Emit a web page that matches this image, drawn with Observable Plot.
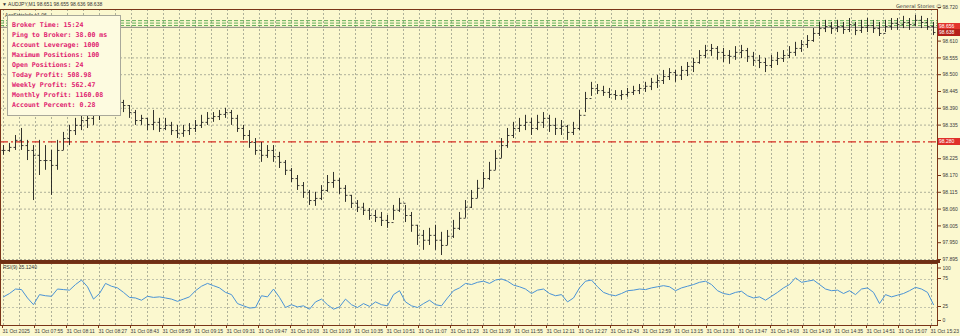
<!DOCTYPE html>
<html><head><meta charset="utf-8">
<script src="https://cdn.jsdelivr.net/npm/d3@7"></script>
<script src="https://cdn.jsdelivr.net/npm/@observablehq/plot@0.6"></script>
<style>
html,body{margin:0;padding:0;background:#fbf8cf;}
#wrap{position:relative;width:960px;height:336px;overflow:hidden;background:#fbf8cf;font-family:"Liberation Sans",Arial,sans-serif;}
#main,#rsi{position:absolute;left:0;}
#main{top:0}
#rsi{top:262px}
.txt{position:absolute;font-size:5px;color:#333;white-space:nowrap;line-height:6px;}
#info{position:absolute;left:7px;top:15px;width:114px;height:101px;box-sizing:border-box;background:#fdfbe0;border:1px solid #a8a89a;padding:4px 0 0 4px;font-family:"DejaVu Sans Mono",monospace;font-weight:bold;font-size:6.6px;line-height:10px;color:#df1a6f;white-space:pre;}
.plabel{position:absolute;left:938px;width:22px;height:7px;line-height:7px;font-size:5px;color:#fff;text-align:left;padding-left:1px;box-sizing:border-box;}
#sep{position:absolute;left:0;top:260px;width:940px;height:3px;background:#6e2f14;}
</style></head>
<body><div id="wrap"></div>
<script>
// ---- data ----
const symbolHeader = "▼ AUDJPY,M1  98.651 98.655 98.636 98.638";
const indicatorName = "AccStatsInfo v1.06";
const brandLabel = "General Stories ☺";
const rsiLabel = "RSI(9) 35.1240";
const infoLines = [
  "Broker Time: 15:24",
  "Ping to Broker: 38.00 ms",
  "Account Leverage: 1000",
  "Maximum Positions: 100",
  "Open Positions: 24",
  "Today Profit: 508.98",
  "Weekly Profit: 562.47",
  "Monthly Profit: 1160.08",
  "Account Percent: 0.28"
];
// bar times in minutes since midnight (3-minute sampling of the M1 chart)
const firstBarMinute = 459, barStepMinutes = 3;
const high = [98.268,98.275,98.301,98.324,98.285,98.268,98.285,98.268,98.252,98.285,
98.311,98.334,98.357,98.367,98.376,98.383,98.416,98.406,98.416,98.422,
98.416,98.399,98.383,98.367,98.357,98.383,98.357,98.357,98.344,98.334,
98.334,98.340,98.350,98.367,98.376,98.376,98.383,98.390,98.383,98.367,
98.334,98.317,98.291,98.278,98.268,98.268,98.246,98.219,98.193,98.170,
98.147,98.121,98.115,98.137,98.170,98.180,98.160,98.137,98.105,98.088,
98.079,98.062,98.056,98.049,98.039,98.072,98.095,98.072,98.049,98.007,
97.990,97.997,98.007,97.984,97.990,98.023,98.049,98.088,98.121,98.154,
98.180,98.213,98.252,98.291,98.324,98.344,98.357,98.367,98.357,98.367,
98.376,98.367,98.357,98.350,98.334,98.344,98.383,98.442,98.475,98.468,
98.462,98.455,98.448,98.448,98.455,98.462,98.468,98.475,98.488,98.498,
98.514,98.520,98.514,98.527,98.540,98.553,98.579,98.596,98.599,98.592,
98.586,98.579,98.592,98.596,98.586,98.573,98.563,98.553,98.563,98.573,
98.579,98.592,98.606,98.612,98.628,98.651,98.671,98.678,98.671,98.678,
98.671,98.684,98.671,98.678,98.684,98.678,98.671,98.678,98.684,98.684,
98.691,98.684,98.694,98.691,98.684,98.671];
const low = [98.236,98.246,98.252,98.252,98.219,98.088,98.170,98.187,98.105,98.187,
98.252,98.268,98.301,98.317,98.324,98.334,98.350,98.367,98.376,98.390,
98.376,98.357,98.334,98.334,98.317,98.317,98.311,98.317,98.301,98.291,
98.295,98.301,98.311,98.324,98.334,98.344,98.350,98.357,98.334,98.311,
98.285,98.259,98.236,98.213,98.226,98.213,98.193,98.170,98.147,98.121,
98.095,98.072,98.069,98.088,98.115,98.128,98.108,98.082,98.062,98.049,
98.039,98.023,98.016,98.003,97.997,98.023,98.049,98.016,97.984,97.941,
97.925,97.941,97.925,97.908,97.941,97.964,97.990,98.030,98.062,98.095,
98.128,98.154,98.187,98.226,98.259,98.291,98.311,98.317,98.301,98.317,
98.324,98.311,98.301,98.301,98.285,98.301,98.317,98.376,98.429,98.435,
98.429,98.422,98.416,98.416,98.426,98.432,98.435,98.442,98.448,98.455,
98.468,98.481,98.475,98.481,98.494,98.507,98.534,98.553,98.560,98.547,
98.540,98.534,98.547,98.553,98.540,98.527,98.520,98.507,98.520,98.530,
98.540,98.553,98.560,98.573,98.586,98.606,98.625,98.638,98.632,98.638,
98.632,98.638,98.628,98.635,98.638,98.635,98.625,98.638,98.645,98.645,
98.651,98.645,98.658,98.651,98.645,98.628];
const close = [98.252,98.262,98.285,98.268,98.252,98.236,98.219,98.219,98.203,98.252,
98.291,98.317,98.334,98.350,98.357,98.367,98.399,98.390,98.399,98.409,
98.399,98.376,98.350,98.357,98.337,98.344,98.324,98.334,98.317,98.308,
98.317,98.324,98.334,98.344,98.357,98.363,98.370,98.376,98.357,98.324,
98.301,98.278,98.252,98.236,98.252,98.232,98.213,98.187,98.160,98.137,
98.115,98.088,98.095,98.121,98.147,98.154,98.128,98.105,98.079,98.066,
98.056,98.039,98.033,98.023,98.016,98.056,98.079,98.039,98.007,97.974,
97.958,97.974,97.958,97.941,97.971,97.997,98.030,98.066,98.095,98.128,
98.160,98.187,98.226,98.268,98.301,98.324,98.334,98.344,98.324,98.344,
98.357,98.334,98.324,98.331,98.311,98.324,98.367,98.422,98.455,98.448,
98.442,98.435,98.432,98.435,98.442,98.448,98.455,98.462,98.475,98.481,
98.494,98.507,98.498,98.514,98.527,98.540,98.563,98.579,98.586,98.573,
98.563,98.560,98.573,98.579,98.560,98.547,98.540,98.530,98.547,98.553,
98.563,98.573,98.586,98.599,98.612,98.635,98.651,98.658,98.651,98.658,
98.648,98.664,98.645,98.655,98.661,98.651,98.635,98.658,98.668,98.664,
98.671,98.664,98.678,98.671,98.658,98.638];
const rsi = [44,50,58,57,42,30,48,46,45,58,
57,56,66,74,62,40,50,68,63,60,
52,43,42,38,45,43,44,42,40,36,
40,44,55,63,68,64,60,52,48,32,
28,24,25,46,44,58,43,25,30,26,
28,22,35,40,30,22,26,40,30,25,
32,27,35,30,28,48,55,35,28,25,
32,38,30,28,42,55,60,68,66,70,
72,68,74,76,72,65,62,58,50,56,
58,50,46,48,35,42,60,72,74,62,
52,48,46,50,55,56,58,57,60,62,
64,62,55,60,63,66,70,72,66,55,
50,48,52,54,46,42,44,38,45,52,
60,66,78,70,72,74,66,58,55,56,
50,55,48,58,60,52,32,48,44,47,
50,55,61,58,52,30];
const priceTicks = [98.720,98.610,98.555,98.500,98.445,98.390,98.335,98.225,98.170,98.115,98.060,98.005,97.950,97.895];
const priceGrid = [98.555,98.500,98.390,98.335,98.115,98.060,97.895];
const orderLevels = [98.677,98.669,98.661];
const bidLevel = 98.655;
const redLevel = 98.280;
const askLabel = 98.656, bidLabel = 98.638;
const rsiTopTick = [100];
const rsiTicks = [75,25,0];
const rsiLevels = [75,25];
const tickTimes = [459,475,491,507,523,539,555,571,587,603,619,635,651,667,683,699,715,731,747,763,779,795,811,827,843,859,875,891,907,923];
const tickLabels = ["31 Oct 2025","31 Oct 07:55","31 Oct 08:11","31 Oct 08:27","31 Oct 08:43","31 Oct 08:59","31 Oct 09:15","31 Oct 09:31","31 Oct 09:47","31 Oct 10:03","31 Oct 10:19","31 Oct 10:35","31 Oct 10:51","31 Oct 11:07","31 Oct 11:23","31 Oct 11:39","31 Oct 11:55","31 Oct 12:11","31 Oct 12:27","31 Oct 12:43","31 Oct 12:59","31 Oct 13:15","31 Oct 13:31","31 Oct 13:47","31 Oct 14:03","31 Oct 14:19","31 Oct 14:35","31 Oct 14:51","31 Oct 15:07","31 Oct 15:23"];

// ---- build ----
const bars = high.map((h, i) => ({
  t: firstBarMinute + barStepMinutes * i,
  high: h, low: low[i], close: close[i],
  open: i ? close[i - 1] : close[i],
  rsi: rsi[i]
}));
const gridTimes = d3.range(459, 924, 8);
const labelMap = new Map(tickTimes.map((t, i) => [t, tickLabels[i]]));
const xDomain = [457.5, 926], xRange = [0, 937];
const brown = "#7a3518", grid = "#9a9d8b", dash = "2,2";

const main = Plot.plot({
  width: 960, height: 262,
  marginLeft: 0, marginRight: 23, marginTop: 9, marginBottom: 1,
  style: {background: "transparent", overflow: "visible", fontFamily: "Liberation Sans, Arial, sans-serif", color: "#3a3a3a"},
  x: {domain: xDomain, range: xRange, axis: null, label: null},
  y: {domain: [97.895, 98.720], range: [259, 7], axis: null, label: null},
  marks: [
    Plot.ruleX(gridTimes, {stroke: grid, strokeDasharray: dash, strokeWidth: 0.8}),
    Plot.ruleY(priceGrid, {stroke: grid, strokeDasharray: dash, strokeWidth: 0.8}),
    Plot.ruleY(orderLevels, {stroke: "#3e9c3e", strokeDasharray: "4,2", strokeWidth: 0.8}),
    Plot.ruleY([bidLevel], {stroke: "#6b6b6b", strokeWidth: 0.8}),
    Plot.ruleY([redLevel], {stroke: "#d52a22", strokeDasharray: "8,3,2,3", strokeWidth: 1.1}),
    Plot.ruleX(bars, {x: "t", y1: "low", y2: "high", stroke: "#1c1c1c", strokeWidth: 0.9}),
    Plot.link(bars, {x1: d => d.t - 1, x2: "t", y1: "open", y2: "open", stroke: "#2a2a2a", strokeWidth: 0.9}),
    Plot.link(bars, {x1: "t", x2: d => d.t + 1, y1: "close", y2: "close", stroke: "#2a2a2a", strokeWidth: 0.9}),
    Plot.axisY(priceTicks, {anchor: "right", label: null, tickSize: 3, tickPadding: 2, fontSize: 5, tickFormat: d3.format(".3f"), stroke: brown}),
    Plot.frame({stroke: brown, strokeWidth: 1})
  ]
});
main.id = "main";

const rsiPlot = Plot.plot({
  width: 960, height: 74,
  marginLeft: 0, marginRight: 23, marginTop: 1, marginBottom: 11,
  style: {background: "transparent", overflow: "visible", fontFamily: "Liberation Sans, Arial, sans-serif", color: "#3a3a3a"},
  x: {domain: xDomain, range: xRange, axis: null, label: null},
  y: {domain: [0, 100], range: [59, 3], axis: null, label: null},
  marks: [
    Plot.ruleX(gridTimes, {stroke: grid, strokeDasharray: dash, strokeWidth: 0.8}),
    Plot.ruleY(rsiLevels, {stroke: "#b4b6a4", strokeDasharray: dash, strokeWidth: 0.8}),
    Plot.line(bars, {x: "t", y: "rsi", stroke: "#4a93d6", strokeWidth: 1}),
    Plot.axisY(rsiTopTick, {anchor: "right", label: null, tickSize: 3, tickPadding: 2, fontSize: 5, dy: 2.5, stroke: brown}),
    Plot.axisY(rsiTicks, {anchor: "right", label: null, tickSize: 3, tickPadding: 2, fontSize: 5, dy: -1, stroke: brown}),
    Plot.axisX(tickTimes, {anchor: "bottom", label: null, tickSize: 2, tickPadding: 1, fontSize: 5, textAnchor: "start", dx: -1, dy: 1, tickFormat: d => labelMap.get(d), stroke: brown}),
    Plot.frame({stroke: brown, strokeWidth: 1})
  ]
});
rsiPlot.id = "rsi";

const wrap = document.getElementById("wrap");
wrap.appendChild(main);
wrap.appendChild(rsiPlot);

const sep = document.createElement("div"); sep.id = "sep"; wrap.appendChild(sep);

function addText(str, left, top, extra) {
  const d = document.createElement("div");
  d.className = "txt"; d.textContent = str;
  d.style.left = left + "px"; d.style.top = top + "px";
  if (extra) Object.assign(d.style, extra);
  wrap.appendChild(d);
}
addText(symbolHeader, 2, 1);
addText(indicatorName, 5, 12);
addText(brandLabel, 896, 3, {fontFamily: "DejaVu Sans, sans-serif"});
addText(rsiLabel, 3, 264);

const info = document.createElement("div");
info.id = "info"; info.textContent = infoLines.join("\n");
wrap.appendChild(info);

const ys = main.scale("y");
function priceLabel(v, bg) {
  const d = document.createElement("div");
  d.className = "plabel"; d.textContent = d3.format(".3f")(v);
  d.style.top = (ys.apply(v) - 3.5) + "px"; d.style.background = bg;
  wrap.appendChild(d);
}
priceLabel(redLevel, "#e0302a");
priceLabel(askLabel, "#e3342c");
priceLabel(bidLabel, "#b52019");
</script>
</body></html>
